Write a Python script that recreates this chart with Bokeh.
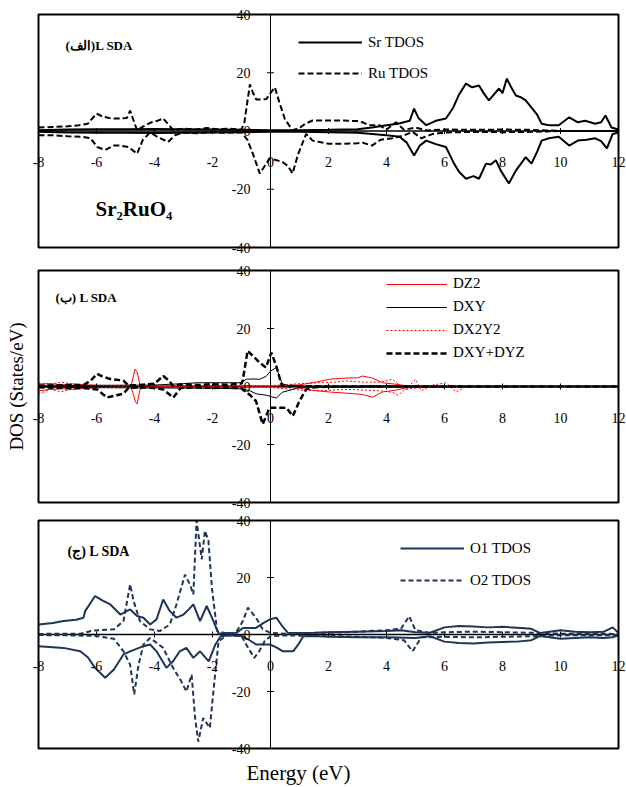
import math
from bokeh.plotting import figure
from bokeh.models import Label, Legend, LegendItem, BoxAnnotation
from bokeh.layouts import column
from bokeh.embed import file_html
from bokeh.resources import INLINE

SERIF = "Liberation Serif"
NAVY = "#1d3557"

X_LIMITS = (-8, 12)
Y_LIMITS = (-40, 40)
XTICKS = [-8, -6, -4, -2, 0, 2, 4, 6, 8, 10, 12]
YTICKS = [40, 20, 0, -20, -40]

# ---------------- Panel (a): Sr / Ru total DOS ----------------
RU_UP_E = [-8.0, -7.5, -7.0, -6.6, -6.3, -6.0, -5.8, -5.5, -5.2, -4.95, -4.84, -4.7, -4.6, -4.4, -4.1, -3.9, -3.7,
           -3.5, -3.36, -3.0, -2.6, -2.2, -1.8, -1.4, -1.0, -0.9, -0.71, -0.6, -0.49, -0.3, -0.14, 0.0, 0.15, 0.3,
           0.5, 0.76, 1.0, 1.2, 1.45, 2.0, 2.5, 3.0, 3.17, 3.4, 3.75, 4.0, 4.33, 4.6, 5.0, 5.4, 6.0, 7.0, 8.0, 9.0,
           9.5, 10.0, 11.0, 12.0]
RU_UP = [1.2, 1.4, 1.6, 2.0, 2.5, 6.0, 5.0, 4.3, 4.3, 4.5, 7.0, 3.0, 0.2, 1.5, 3.0, 3.5, 4.3,
         2.0, 0.3, 0.8, 0.5, 1.0, 0.6, 0.8, 0.5, 3.0, 16.0, 13.0, 10.8, 10.8, 11.0, 13.0, 15.0, 10.0,
         4.0, 0.3, 1.0, 2.5, 3.6, 3.6, 3.6, 3.4, 3.0, 2.0, 2.0, 0.5, 3.0, 0.4, 1.2, 0.2, 0.5, 0.4, 0.5, 0.4,
         0.2, 0.0, 0.0, 0.0]
RU_DN_E = [-8.0, -7.5, -7.0, -6.5, -6.2, -5.98, -5.7, -5.4, -5.18, -4.9, -4.6, -4.4, -4.15, -3.9, -3.53, -3.3,
           -3.0, -2.5, -2.0, -1.5, -1.0, -0.8, -0.6, -0.37, -0.2, -0.03, 0.2, 0.42, 0.6, 0.76, 0.95, 1.23, 1.45,
           2.0, 2.5, 3.0, 3.17, 3.5, 3.8, 4.2, 4.6, 4.9, 5.2, 5.6, 6.0, 7.0, 8.0, 9.0, 10.0, 12.0]
RU_DN = [-1.5, -1.5, -1.8, -2.0, -2.5, -5.5, -6.5, -5.0, -5.0, -5.5, -7.8, -3.0, -0.5, -2.0, -3.8, -1.5,
         -0.5, -0.8, -0.4, -0.6, -0.5, -3.0, -8.0, -14.6, -12.0, -9.5, -10.0, -10.7, -12.0, -14.6, -8.0, -1.0, -3.3,
         -4.4, -4.4, -4.2, -4.0, -5.0, -3.0, -2.5, -1.5, -0.3, -2.5, -1.0, -0.5, -0.3, -0.4, -0.3, 0.0, 0.0]

SR_UP_E = [-8.0, -7.0, -6.0, -5.0, -4.0, -3.0, -2.0, -1.0, 0.0, 1.0, 2.0, 3.0, 3.5, 4.0, 4.4, 4.8, 4.95, 5.1,
           5.37, 5.7, 6.05, 6.3, 6.5, 6.74, 6.95, 7.19, 7.35, 7.53, 7.7, 7.88, 8.0, 8.15, 8.3, 8.46, 8.65, 8.8,
           9.0, 9.2, 9.35, 9.6, 9.94, 10.3, 10.6, 10.85, 11.2, 11.4, 11.55, 11.76, 12.0]
SR_UP = [0.3, 0.5, 0.6, 0.6, 0.7, 0.6, 0.5, 0.4, 0.3, 0.3, 0.4, 0.6, 1.2, 2.0, 2.5, 3.5, 7.7, 4.5,
         2.0, 3.5, 4.3, 8.0, 12.5, 16.3, 15.0, 15.6, 13.0, 10.5, 12.5, 14.6, 13.0, 18.0, 15.0, 12.2, 11.5, 10.5,
         8.0, 5.5, 2.5, 2.0, 2.0, 4.7, 3.0, 3.5, 2.5, 3.0, 5.3, 1.2, 0.5]
SR_DN_E = [-8.0, -7.0, -6.0, -5.0, -4.0, -3.0, -2.0, -1.0, 0.0, 1.0, 2.0, 3.0, 3.5, 4.0, 4.45, 4.7, 4.95, 5.15,
           5.37, 5.7, 6.05, 6.33, 6.5, 6.74, 7.0, 7.19, 7.43, 7.6, 7.77, 7.94, 8.22, 8.46, 8.65, 8.8, 9.0, 9.2,
           9.35, 9.6, 9.94, 10.3, 10.6, 10.9, 11.2, 11.4, 11.6, 11.8, 12.0]
SR_DN = [-0.3, -0.5, -0.6, -0.6, -0.7, -0.6, -0.5, -0.4, -0.3, -0.3, -0.4, -0.6, -1.0, -1.5, -2.0, -4.0, -8.4, -5.0,
         -3.3, -4.5, -5.5, -11.2, -14.0, -16.4, -15.5, -16.4, -11.2, -11.5, -10.0, -13.6, -18.0, -13.6, -11.0, -9.0,
         -11.2, -7.0, -3.3, -2.5, -2.0, -5.0, -3.3, -3.0, -2.5, -3.5, -6.0, -1.0, -0.5]

# ---------------- Panel (b): Ru d orbitals ----------------
DD_UP_E = [-8.0, -7.0, -6.45, -6.2, -5.98, -5.8, -5.53, -5.2, -5.07, -4.9, -4.5, -4.0, -3.7, -3.5, -3.36, -3.0,
           -2.5, -2.0, -1.5, -1.0, -0.96, -0.79, -0.6, -0.4, -0.16, 0.03, 0.2, 0.39, 0.6, 1.0, 2.0, 4.0, 6.0, 8.0,
           10.0, 12.0]
DD_UP = [0.3, 0.5, 0.5, 2.0, 4.4, 3.5, 2.6, 2.2, 2.0, 0.3, 0.5, 1.0, 3.6, 2.0, 0.2, 0.8,
         0.5, 0.8, 0.6, 1.0, 2.0, 12.3, 10.5, 8.5, 6.5, 11.7, 7.0, 0.3, 0.2, 0.1, 0.0, 0.0, 0.0, 0.0,
         0.0, 0.0]
DD_DN_E = [-8.0, -7.0, -6.45, -6.2, -5.98, -5.64, -5.3, -5.07, -4.9, -4.5, -4.0, -3.7, -3.35, -3.1, -2.5, -2.0,
           -1.5, -1.0, -0.96, -0.7, -0.5, -0.27, -0.03, 0.2, 0.55, 0.77, 1.0, 1.23, 1.5, 2.0, 4.0, 6.0, 8.0, 10.0, 12.0]
DD_DN = [-0.3, -0.5, -0.5, -0.8, -1.0, -3.8, -3.0, -2.5, -0.5, -0.3, -0.5, -1.0, -3.8, -0.5, -0.3, -0.5,
         -0.3, -0.6, -1.0, -3.0, -5.0, -13.0, -7.3, -7.3, -7.3, -10.2, -5.0, -1.0, -0.3, -0.1, 0.0, 0.0, 0.0, 0.0, 0.0]

DXY_UP_E = [-8.0, -6.0, -4.0, -3.0, -2.5, -1.5, -1.0, -0.84, -0.6, -0.37, -0.15, 0.0, 0.2, 0.4, 0.6, 1.0, 2.0,
            4.0, 6.0, 8.0, 10.0, 12.0]
DXY_UP = [0.2, 0.4, 0.5, 1.0, 1.3, 1.3, 1.3, 2.5, 2.6, 2.5, 3.5, 5.3, 6.5, 1.0, 0.3, 0.2, 0.1,
          0.1, 0.0, 0.0, 0.0, 0.0]
DXY_DN_E = [-8.0, -6.0, -4.0, -2.0, -1.0, -0.7, -0.5, -0.15, 0.2, 0.4, 0.77, 1.0, 2.0, 4.0, 8.0, 12.0]
DXY_DN = [-0.2, -0.4, -0.5, -0.6, -0.8, -1.5, -2.5, -3.0, -4.0, -2.0, -1.0, -0.3, -0.1, -0.1, 0.0, 0.0]

DZ2_E = [-8.0, -7.6, -7.2, -6.8, -6.4, -6.0, -5.5, -5.0, -4.8, -4.72, -4.67, -4.6, -4.5, -4.3, -4.0, -3.0, -2.0,
         -1.0, 0.0, 0.6, 1.0, 1.46, 2.03, 2.6, 3.0, 3.18, 3.52, 3.86, 4.3, 4.65, 5.0, 6.0, 8.0, 10.0, 12.0]
DZ2_UP = [0.8, 1.0, 0.6, 0.9, 0.5, 0.4, 0.3, 0.3, 0.5, 4.0, 6.0, 5.0, 0.5, 0.2, 0.2, 0.2, 0.2,
          0.2, 0.2, 0.3, 0.6, 1.3, 2.5, 2.9, 3.0, 3.6, 2.9, 1.3, 0.8, 0.3, 0.1, 0.0, 0.0, 0.0, 0.0]
DZ2_DN = [-1.5, -1.0, -0.8, -1.0, -0.6, -0.4, -0.3, -0.3, -0.5, -3.0, -5.0, -6.0, -1.0, -0.2, -0.2, -0.2, -0.2,
          -0.2, -0.2, -0.3, -0.6, -1.3, -1.9, -2.3, -2.6, -2.8, -3.7, -1.9, -1.3, -0.5, -0.1, 0.0, 0.0, 0.0, 0.0]

DX_E = [-8.0, -7.6, -7.2, -6.8, -6.4, -6.0, -5.0, -4.0, -2.0, 0.0, 0.5, 1.0, 1.7, 2.2, 2.6, 3.2, 3.8, 4.2, 4.4,
        4.65, 5.0, 5.2, 5.6, 6.05, 6.4, 6.8, 7.5, 9.0, 10.5, 12.0]
DX_UP = [1.2, 0.8, 1.5, 0.7, 0.6, 0.4, 0.3, 0.2, 0.2, 0.3, 0.6, 1.0, 1.3, 1.5, 1.9, 1.5, 1.5, 2.5, 0.9,
         -1.2, 2.5, -1.5, 0.5, 1.3, -1.9, 0.2, 0.1, 0.0, 0.0, 0.0]
DX_DN = [-2.5, -1.0, -1.8, -0.8, -0.6, -0.4, -0.3, -0.2, -0.2, -0.3, -0.8, -1.2, -1.5, -1.2, -1.0, -1.2, -1.5,
         -2.0, -3.0, -1.0, -0.5, -0.3, -0.2, -0.3, -0.2, -0.1, -0.1, 0.0, 0.0, 0.0]

# ---------------- Panel (c): O total DOS ----------------
O1_UP_E = [-8.0, -7.5, -7.14, -6.7, -6.45, -6.39, -6.05, -5.8, -5.53, -5.18, -4.84, -4.6, -4.38, -4.15, -3.93,
           -3.7, -3.47, -3.24, -3.0, -2.8, -2.66, -2.43, -2.2, -2.02, -1.79, -1.5, -1.2, -0.95, -0.7, -0.5, -0.25,
           -0.02, 0.2, 0.4, 0.6, 1.0, 1.5, 2.0, 3.0, 4.0, 4.5, 5.0, 5.5, 6.0, 6.5, 7.0, 7.5, 8.0, 8.5, 9.0, 9.3,
           10.0, 10.5, 11.0, 11.5, 11.8, 12.0]
O1_UP = [3.5, 4.0, 4.7, 5.2, 5.9, 8.2, 13.5, 12.0, 10.6, 7.0, 8.8, 6.5, 5.9, 3.5, 5.3,
         12.3, 8.2, 5.9, 7.0, 9.0, 10.6, 4.7, 10.0, 5.9, 0.3, 0.5, 0.4, 2.3, 2.3, 2.3, 4.0,
         5.3, 5.9, 3.0, 0.6, 0.5, 0.6, 0.8, 1.0, 1.2, 1.5, 0.8, 0.6, 2.5, 3.0, 2.8, 2.5, 2.7, 2.4, 2.0, 0.5,
         1.5, 1.0, 0.8, 1.0, 2.5, 0.5]
O1_DN_E = [-8.0, -7.14, -6.56, -6.3, -6.05, -5.7, -5.4, -5.07, -4.84, -4.38, -4.15, -3.93, -3.59, -3.36, -3.13,
           -2.9, -2.66, -2.43, -2.13, -1.9, -1.72, -1.4, -1.0, -0.8, -0.5, -0.02, 0.2, 0.43, 0.78, 0.96, 1.13, 1.5,
           2.0, 3.0, 4.0, 5.0, 5.5, 6.0, 6.5, 7.0, 7.5, 8.0, 8.5, 9.0, 9.3, 10.0, 11.0, 11.5, 11.8, 12.0]
O1_DN = [-4.1, -4.7, -5.9, -8.0, -11.7, -15.2, -12.3, -7.0, -5.9, -4.1, -3.5, -5.9, -11.7, -9.4, -5.9,
         -4.7, -8.2, -5.9, -9.4, -3.5, -0.6, -0.3, -0.5, -1.5, -3.5, -3.5, -4.5, -5.9, -5.9, -3.5, -0.6, -0.5,
         -0.8, -1.0, -1.0, -1.2, -0.6, -2.5, -3.0, -3.2, -2.8, -2.6, -2.5, -2.0, -0.5, -1.5, -1.0, -1.2, -1.0, -0.3]

O2_UP_E = [-8.0, -7.0, -6.56, -6.1, -5.4, -5.07, -4.84, -4.72, -4.5, -4.15, -3.82, -3.47, -3.24, -2.95, -2.78,
           -2.66, -2.55, -2.37, -2.26, -2.14, -2.02, -1.84, -1.5, -1.2, -0.95, -0.78, -0.5, -0.27, 0.0, 0.5, 1.0,
           2.0, 3.0, 4.0, 4.5, 4.78, 5.0, 5.5, 6.0, 7.0, 8.0, 9.0, 10.0, 11.0, 12.0]
O2_UP = [0.2, 0.3, 0.3, 1.4, 1.8, 4.7, 17.6, 11.7, 4.7, 1.8, 1.2, 3.5, 10.6, 21.0, 17.6,
         14.1, 40.0, 26.4, 36.4, 32.9, 16.4, 1.2, 0.3, 0.5, 4.7, 9.4, 5.9, 1.8, 0.6, 0.3, 0.5,
         0.6, 1.0, 1.5, 2.0, 6.4, 1.5, 0.5, 0.8, 1.0, 0.8, 0.6, 0.3, 0.3, 0.2]
O2_DN_E = [-8.0, -7.0, -6.0, -5.4, -5.07, -4.84, -4.7, -4.55, -4.38, -4.15, -3.7, -3.36, -3.1, -2.9, -2.72, -2.6,
           -2.49, -2.32, -2.09, -1.97, -1.79, -1.5, -1.0, -0.84, -0.56, -0.39, -0.2, 0.0, 0.5, 1.0, 2.0, 3.0, 4.0,
           4.6, 4.9, 5.2, 6.0, 7.0, 8.0, 9.0, 10.0, 11.0, 12.0]
O2_DN = [-0.2, -0.3, -0.5, -1.5, -5.9, -10.6, -21.0, -10.6, -3.5, -1.2, -4.7, -11.7, -16.0, -20.0, -14.1, -29.3,
         -37.6, -29.3, -32.8, -20.0, -2.3, -0.3, -0.5, -3.5, -8.2, -5.9, -2.3, -0.6, -0.3, -0.4, -0.5, -0.8, -1.2,
         -2.0, -5.9, -1.0, -0.8, -1.0, -0.8, -0.6, -0.3, -0.3, -0.2]

# ---------------- layout helpers (pixel geometry) ----------------
FIG_W = 626
BOX_LEFT_PX, BOX_RIGHT_PX = 38, 618


def make_panel(height, box_top_px, box_bottom_px):
    """Figure whose frame is the whole canvas; the visible plot box spans X_LIMITS x Y_LIMITS."""
    xs = (BOX_RIGHT_PX - BOX_LEFT_PX) / (X_LIMITS[1] - X_LIMITS[0])
    ys = (box_bottom_px - box_top_px) / (Y_LIMITS[1] - Y_LIMITS[0])
    xr = (X_LIMITS[0] - BOX_LEFT_PX / xs, X_LIMITS[1] + (FIG_W - BOX_RIGHT_PX) / xs)
    yr = (Y_LIMITS[0] - (height - box_bottom_px) / ys, Y_LIMITS[1] + box_top_px / ys)
    p = figure(width=FIG_W, height=height, x_range=xr, y_range=yr,
               x_axis_location=None, y_axis_location=None, toolbar_location=None,
               output_backend="svg", min_border=0)
    p.xgrid.grid_line_color = None
    p.ygrid.grid_line_color = None
    p.outline_line_color = None
    p.background_fill_color = "white"
    p.border_fill_color = "white"
    p.add_layout(BoxAnnotation(left=X_LIMITS[0], right=X_LIMITS[1], bottom=Y_LIMITS[0], top=Y_LIMITS[1],
                               fill_alpha=0, line_color="black", line_alpha=1.0, line_width=2))
    # axes crossing at the origin
    p.line(x=list(X_LIMITS), y=[0, 0], line_color="black", line_width=1.5)
    p.line(x=[0, 0], y=list(Y_LIMITS), line_color="black", line_width=1)
    # tick marks
    p.scatter(x=[0] * len(YTICKS), y=YTICKS, marker="dash", size=7, line_color="black", line_width=1)
    p.scatter(x=XTICKS, y=[0] * len(XTICKS), marker="dash", angle=math.pi / 2, size=6,
              line_color="black", line_width=1)
    for t in XTICKS:
        p.add_layout(Label(x=t, y=0, text=str(t), y_offset=-31, text_align="center",
                           text_baseline="middle", text_font=SERIF, text_font_size="14px",
                           text_color="black"))
    for t in YTICKS:
        p.add_layout(Label(x=0, y=t, text=str(t), x_offset=-20, text_align="right",
                           text_baseline="middle", text_font=SERIF, text_font_size="14px",
                           text_color="black"))
    return p


def style_legend(items, loc, gh, sp, gw):
    return Legend(items=items, location=loc, border_line_color=None, background_fill_alpha=0,
                  padding=0, margin=0, spacing=sp, glyph_width=gw, glyph_height=gh, label_height=gh,
                  label_standoff=6, label_text_font=SERIF, label_text_font_size="15px",
                  label_text_color="black")


def panel_label(p, text, x, y, size="13px", style="bold", angle=0.0, align="left"):
    p.add_layout(Label(x=x, y=y, x_units="screen", y_units="screen", text=text, text_font=SERIF,
                       text_font_size=size, text_font_style=style, text_baseline="middle",
                       text_align=align, text_color="black", angle=angle))


# ---- panel 1
p1 = make_panel(258, 14, 247)
r_sr = p1.line(SR_UP_E, SR_UP, line_color="black", line_width=2)
p1.line(SR_DN_E, SR_DN, line_color="black", line_width=2)
r_ru = p1.line(RU_UP_E, RU_UP, line_color="black", line_width=2, line_dash="6 3")
p1.line(RU_DN_E, RU_DN, line_color="black", line_width=2, line_dash="6 3")
p1.add_layout(style_legend([LegendItem(label="Sr TDOS", renderers=[r_sr]),
                            LegendItem(label="Ru TDOS", renderers=[r_ru])],
                           (298, 175), 20, 11, 64))
panel_label(p1, "(الف)L SDA", 65, 213)
panel_label(p1, "Sr₂RuO₄", 95, 50, "21px")

# ---- panel 2
p2 = make_panel(252, 12, 244)
r_dz2 = p2.line(DZ2_E, DZ2_UP, line_color="red", line_width=1)
p2.line(DZ2_E, DZ2_DN, line_color="red", line_width=1)
r_dxy = p2.line(DXY_UP_E, DXY_UP, line_color="black", line_width=1)
p2.line(DXY_DN_E, DXY_DN, line_color="black", line_width=1)
r_dx = p2.line(DX_E, DX_UP, line_color="red", line_width=1, line_dash="2 2")
p2.line(DX_E, DX_DN, line_color="red", line_width=1, line_dash="2 2")
r_dd = p2.line(DD_UP_E, DD_UP, line_color="black", line_width=2.5, line_dash="6 3")
p2.line(DD_DN_E, DD_DN, line_color="black", line_width=2.5, line_dash="6 3")
p2.add_layout(style_legend([LegendItem(label="DZ2", renderers=[r_dz2]),
                            LegendItem(label="DXY", renderers=[r_dxy]),
                            LegendItem(label="DX2Y2", renderers=[r_dx]),
                            LegendItem(label="DXY+DYZ", renderers=[r_dd])],
                           (386, 149), 16, 6, 61))
panel_label(p2, "(ب) L SDA", 55, 213)
panel_label(p2, "DOS (States/eV)", 16, 124, "19px", "normal", math.pi / 2, "center")

# ---- panel 3
p3 = make_panel(275, 10, 238)
r_o1 = p3.line(O1_UP_E, O1_UP, line_color=NAVY, line_width=2)
p3.line(O1_DN_E, O1_DN, line_color=NAVY, line_width=2)
r_o2 = p3.line(O2_UP_E, O2_UP, line_color=NAVY, line_width=2, line_dash="5 3")
p3.line(O2_DN_E, O2_DN, line_color=NAVY, line_width=2, line_dash="5 3")
p3.add_layout(style_legend([LegendItem(label="O1 TDOS", renderers=[r_o1]),
                            LegendItem(label="O2 TDOS", renderers=[r_o2])],
                           (400, 195), 20, 12, 64))
panel_label(p3, "(ج) L SDA", 67, 234, "14px")
panel_label(p3, "Energy (eV)", 298, 13, "21px", "normal", 0.0, "center")

layout = column(p1, p2, p3, spacing=0)
open("out.html", "w").write(file_html(layout, INLINE))
